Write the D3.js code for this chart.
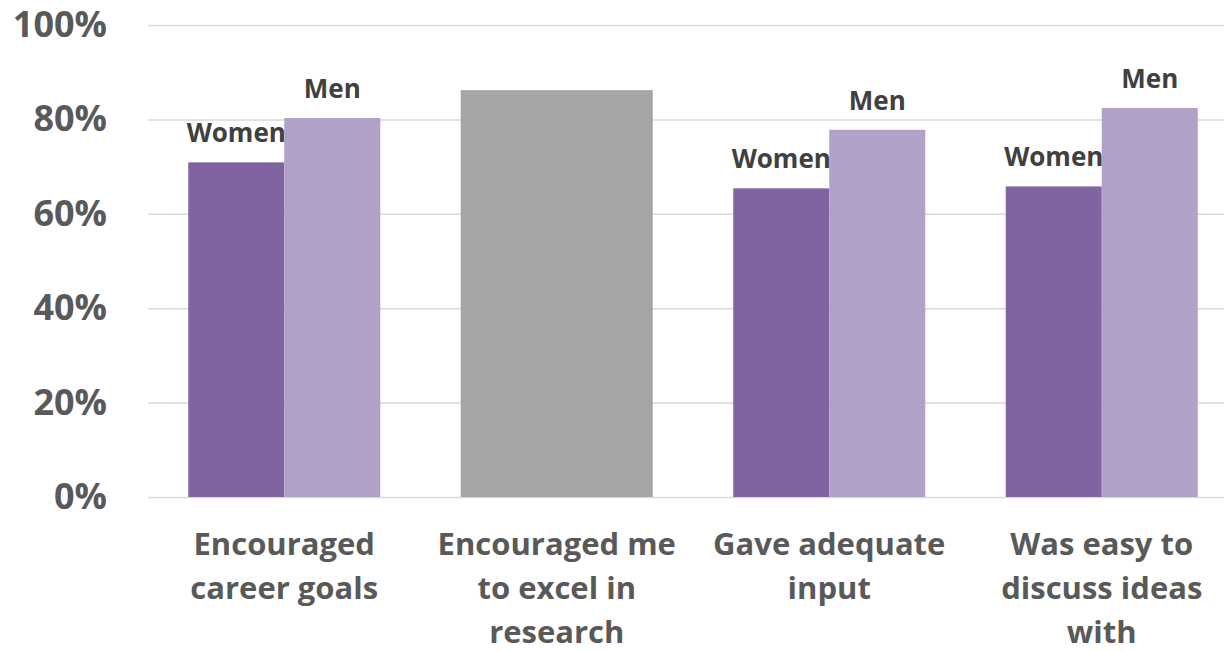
<!DOCTYPE html>
<html>
<head>
<meta charset="utf-8">
<script src="https://cdn.jsdelivr.net/npm/d3@7"></script>
<style>
  html, body { margin: 0; padding: 0; background: #fff; }
  svg { display: block; font-family: "Open Sans", "Noto Sans", sans-serif; }
</style>
</head>
<body>
<svg id="chart" width="1224" height="651"></svg>
<script>
// Survey categories (x axis)
const categories = [
  "Encouraged career goals",
  "Encouraged me to excel in research",
  "Gave adequate input",
  "Was easy to discuss ideas with"
];
// Share agreeing, by group (null = not split by gender)
const women = [0.709, null, 0.654, 0.658];
const men = [0.803, null, 0.778, 0.824];
const overall = [null, 0.862, null, null];
const seriesNames = ["Women", "Men"];
const yTicks = [0, 0.2, 0.4, 0.6, 0.8, 1.0];

const colors = { Women: "#8064A2", Men: "#B1A0C7", overall: "#A5A5A5" };

const svg = d3.select("#chart");
const margin = { left: 148, top: 25, bottom: 497 };
const plotRight = 1238;

const y = d3.scaleLinear().domain([0, 1]).range([margin.bottom, margin.top]);

const x = d3.scaleBand()
  .domain(categories)
  .range([margin.left, plotRight])
  .paddingInner(0.2954)
  .paddingOuter(0.1477);

const x1 = d3.scaleBand().domain(seriesNames).range([0, x.bandwidth()]);

// Horizontal gridlines
svg.append("g")
  .attr("transform", `translate(${margin.left},0)`)
  .call(d3.axisLeft(y).tickValues(yTicks).tickSize(-(plotRight - margin.left)).tickFormat(""))
  .call(g => g.select(".domain").remove())
  .call(g => g.selectAll(".tick line").attr("stroke", "#D9D9D9").attr("stroke-width", 1.5));

// Y axis labels
svg.append("g")
  .attr("transform", `translate(${margin.left},0)`)
  .call(d3.axisLeft(y).tickValues(yTicks).tickSize(0).tickPadding(41).tickFormat(d3.format(".0%")))
  .call(g => g.select(".domain").remove())
  .call(g => g.selectAll(".tick text")
    .attr("fill", "#595959")
    .attr("font-size", 36)
    .attr("font-weight", 700)
    .attr("font-family", "'Open Sans', sans-serif"));

// Bars
const barData = [];
categories.forEach((c, i) => {
  if (overall[i] != null) {
    barData.push({ cat: c, key: "overall", value: overall[i], x0: 0, w: x.bandwidth() });
  }
  if (women[i] != null) {
    barData.push({ cat: c, key: "Women", value: women[i], x0: x1("Women"), w: x1.bandwidth() });
  }
  if (men[i] != null) {
    barData.push({ cat: c, key: "Men", value: men[i], x0: x1("Men"), w: x1.bandwidth() });
  }
});

svg.append("g").selectAll("rect")
  .data(barData)
  .join("rect")
  .attr("x", d => x(d.cat) + d.x0)
  .attr("y", d => y(d.value))
  .attr("width", d => d.w)
  .attr("height", d => y(0) - y(d.value))
  .attr("fill", d => colors[d.key]);

// Series name labels above each gendered bar
svg.append("g").selectAll("text")
  .data(barData.filter(d => d.key !== "overall"))
  .join("text")
  .attr("x", d => x(d.cat) + d.x0 + d.w / 2)
  .attr("y", d => y(d.value) - 20)
  .attr("text-anchor", "middle")
  .attr("fill", "#404040")
  .attr("font-size", 26)
  .attr("font-weight", 700)
  .text(d => d.key);

// Category labels, wrapped to fit the band
const catG = svg.append("g");
categories.forEach(c => {
  const cx = x(c) + x.bandwidth() / 2;
  const t = catG.append("text")
    .attr("x", cx)
    .attr("y", 555)
    .attr("text-anchor", "middle")
    .attr("fill", "#595959")
    .attr("font-size", 31)
    .attr("font-weight", 700);
  const words = c.split(" ");
  const maxW = 255;
  let line = [];
  let ts = t.append("tspan").attr("x", cx).attr("dy", 0);
  words.forEach(w => {
    line.push(w);
    ts.text(line.join(" "));
    if (ts.node().getComputedTextLength() > maxW && line.length > 1) {
      line.pop();
      ts.text(line.join(" "));
      line = [w];
      ts = t.append("tspan").attr("x", cx).attr("dy", 44).text(w);
    }
  });
});
</script>
</body>
</html>
